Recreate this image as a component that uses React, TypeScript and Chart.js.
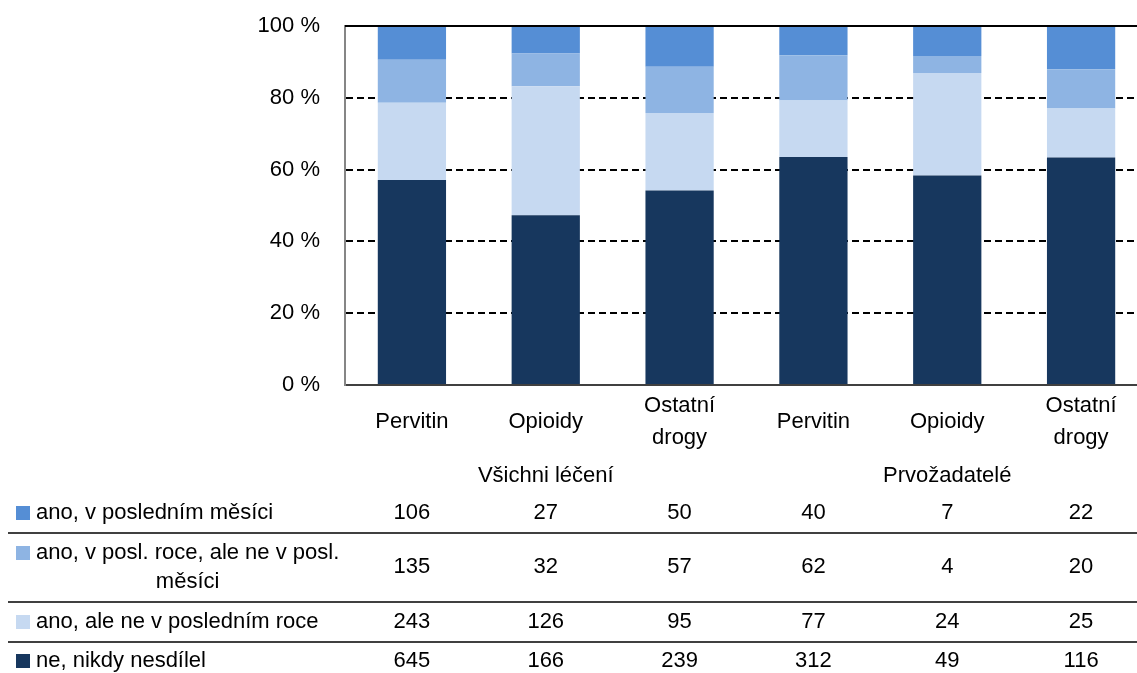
import React, { useEffect, useRef } from "react";
import { Chart, registerables } from "chart.js";

Chart.register(...registerables);

// ---- data ----
const categories: string[][] = [
  ["Pervitin"],
  ["Opioidy"],
  ["Ostatní", "drogy"],
  ["Pervitin"],
  ["Opioidy"],
  ["Ostatní", "drogy"],
];
const groupLabels = ["Všichni léčení", "Prvožadatelé"];
const groupAt = [1, 4];

const seriesNames = [
  "ano, v posledním měsíci",
  "ano, v posl. roce, ale ne v posl. měsíci",
  "ano, ale ne v posledním roce",
  "ne, nikdy nesdílel",
];
const tableLabelLines: string[][] = [
  ["ano, v posledním měsíci"],
  ["ano, v posl. roce, ale ne v posl.", "měsíci"],
  ["ano, ale ne v posledním roce"],
  ["ne, nikdy nesdílel"],
];
const lastMonth = [106, 27, 50, 40, 7, 22];
const lastYear = [135, 32, 57, 62, 4, 20];
const notLastYear = [243, 126, 95, 77, 24, 25];
const never = [645, 166, 239, 312, 49, 116];
const yTicks = [0, 20, 40, 60, 80, 100];

const colors = ["#558ED5", "#8EB4E3", "#C6D9F1", "#17375E"];

const FONT = '"Liberation Sans", Arial, sans-serif';
const FS = 22;

const rowsTopDown = [lastMonth, lastYear, notLastYear, never];
const totals = never.map((_, i) => lastMonth[i] + lastYear[i] + notLastYear[i] + never[i]);
const pct = (arr: number[]) => arr.map((v, i) => (v / totals[i]) * 100);

// layout constants for the data table
const rowCenterY = [513, 567, 622, 661];
const rowLineY: number[][] = [[513], [553, 582], [622], [661]];
const sepY = [533, 602, 642];
const groupY = 476;

const tablePlugin = {
  id: "tablePlugin",
  afterDatasetsDraw(chart: any) {
    const { ctx, chartArea } = chart;
    const y = chart.scales.y;
    ctx.save();
    ctx.strokeStyle = "#000";
    ctx.lineWidth = 2;
    ctx.beginPath();
    const yt = Math.round(y.getPixelForValue(100));
    ctx.moveTo(chartArea.left, yt);
    ctx.lineTo(chartArea.right, yt);
    ctx.stroke();
    ctx.restore();
  },
  afterDraw(chart: any) {
    const { ctx } = chart;
    const x = chart.scales.x;
    const W = chart.width;
    ctx.save();
    ctx.font = `${FS}px ${FONT}`;
    ctx.fillStyle = "#000";
    ctx.textBaseline = "middle";
    ctx.textAlign = "center";
    groupLabels.forEach((g, k) => ctx.fillText(g, x.getPixelForValue(groupAt[k]), groupY));

    // separators
    ctx.strokeStyle = "#404040";
    ctx.lineWidth = 2;
    sepY.forEach((sy) => {
      ctx.beginPath();
      ctx.moveTo(8, sy);
      ctx.lineTo(W, sy);
      ctx.stroke();
    });

    rowsTopDown.forEach((vals, r) => {
      const lines = tableLabelLines[r];
      const ly = rowLineY[r];
      // legend key
      ctx.fillStyle = colors[r];
      ctx.fillRect(16, ly[0] - 7, 14, 14);
      ctx.fillStyle = "#000";
      ctx.textAlign = "left";
      ctx.fillText(lines[0], 36, ly[0]);
      if (lines.length > 1) {
        const w0 = ctx.measureText(lines[0]).width;
        ctx.textAlign = "center";
        ctx.fillText(lines[1], 36 + w0 / 2, ly[1]);
      }
      ctx.textAlign = "center";
      vals.forEach((v, i) => {
        ctx.fillText(String(v), x.getPixelForValue(i), rowCenterY[r]);
      });
    });
    ctx.restore();
  },
};

export default function App() {
  const ref = useRef<HTMLCanvasElement | null>(null);
  useEffect(() => {
    if (!ref.current) return;
    const datasets = [never, notLastYear, lastYear, lastMonth].map((arr, k) => ({
      label: seriesNames[3 - k],
      data: pct(arr),
      backgroundColor: colors[3 - k],
      borderWidth: 0,
      categoryPercentage: 1,
      barPercentage: 0.51,
    }));
    const chart = new Chart(ref.current, {
      type: "bar",
      data: { labels: categories, datasets },
      plugins: [tablePlugin],
      options: {
        responsive: false,
        animation: false,
        layout: { padding: { top: 26, left: 0, right: 0, bottom: 0 } },
        plugins: { legend: { display: false }, tooltip: { enabled: false } },
        scales: {
          x: {
            stacked: true,
            grid: { display: false, drawTicks: false },
            border: { display: true, color: "#404040", width: 2 },
            ticks: {
              color: "#000",
              font: { family: FONT, size: FS, lineHeight: 1.45 },
              padding: 21,
              crossAlign: "center",
              maxRotation: 0,
              autoSkip: false,
            },
            afterFit: (s: any) => {
              s.height = 673 - 385;
              s.paddingLeft = 0;
              s.paddingRight = 0;
            },
          },
          y: {
            stacked: true,
            min: 0,
            max: 100,
            afterBuildTicks: (s: any) => {
              s.ticks = yTicks.map((v) => ({ value: v }));
            },
            grid: {
              drawTicks: false,
              lineWidth: 2,
              color: (c: any) =>
                c.tick && (c.tick.value === 0 || c.tick.value === 100) ? "rgba(0,0,0,0)" : "#000",
            },
            border: { display: true, color: "#868686", width: 2, dash: [7, 4] },
            ticks: {
              color: "#000",
              font: { family: FONT, size: FS },
              padding: 25,
              callback: (v: any) => `${v} %`,
            },
            afterFit: (s: any) => {
              s.width = 345;
              s.paddingTop = 0;
              s.paddingBottom = 0;
            },
          },
        },
      },
    });
    return () => chart.destroy();
  }, []);
  return (
    <div
      style={{
        position: "fixed",
        left: 0,
        top: 0,
        width: 1137,
        height: 673,
        overflow: "hidden",
        background: "#fff",
      }}
    >
      <canvas ref={ref} width={1148} height={673} style={{ display: "block" }} />
    </div>
  );
}
